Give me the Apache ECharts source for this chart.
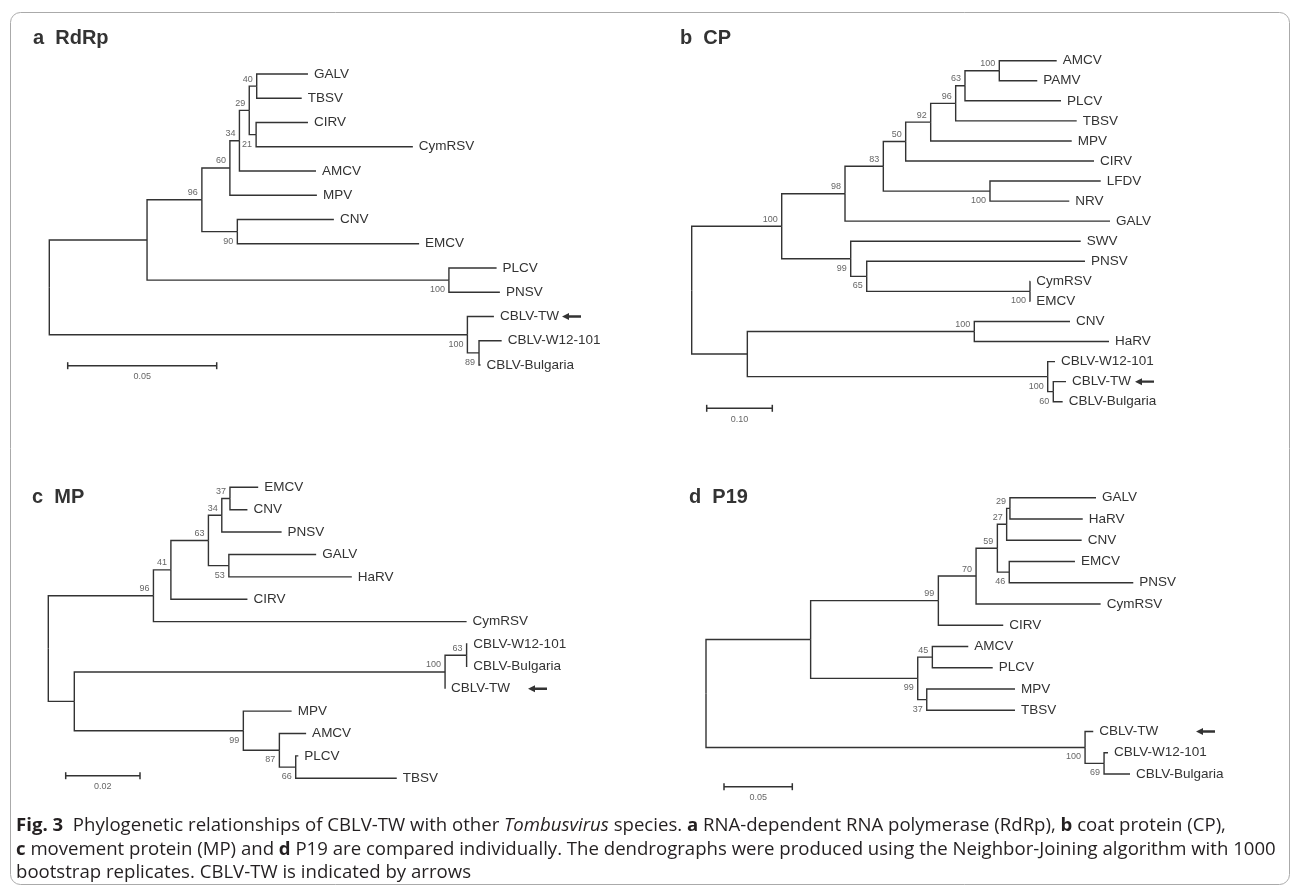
<!DOCTYPE html>
<html><head><meta charset="utf-8">
<script src="https://cdn.jsdelivr.net/npm/echarts@6/dist/echarts.min.js"></script>
<style>html,body{margin:0;padding:0;background:#fff}#c{width:1293px;height:887px}</style>
</head><body><div id="c"></div>
<script>
// ---------- Panel a: RdRp (pre-order nodes; dist = distance from root) ----------
const aName = ['', '', '', '', '', '', '', 'GALV', 'TBSV', '', 'CIRV', 'CymRSV', 'AMCV', 'MPV', '', 'CNV', 'EMCV', '', 'PLCV', 'PNSV', '', 'CBLV-TW', '', 'CBLV-W12-101', 'CBLV-Bulgaria'];
const aParent = [-1, 0, 1, 2, 3, 4, 5, 6, 6, 5, 9, 9, 4, 3, 2, 14, 14, 1, 17, 17, 0, 20, 20, 22, 22];
const aDist = [0, 0.0328, 0.0512, 0.0606, 0.0638, 0.0671, 0.0696, 0.0868, 0.0847, 0.0694, 0.0868, 0.1220, 0.0895, 0.0898, 0.0631, 0.0955, 0.1241, 0.1341, 0.1501, 0.1512, 0.1403, 0.1492, 0.1442, 0.1518, 0.1447];
const aBoot = [null, null, 96, 60, 34, 29, 40, null, null, 21, null, null, null, null, 90, null, null, 100, null, null, 100, null, 89, null, null];
const aScaleBar = 0.05;

// ---------- Panel b: CP ----------
const bName = ['', '', '', '', '', '', '', '', '', 'AMCV', 'PAMV', 'PLCV', 'TBSV', 'MPV', 'CIRV', '', 'LFDV', 'NRV', 'GALV', '', 'SWV', '', 'PNSV', '', 'CymRSV', 'EMCV', '', '', 'CNV', 'HaRV', '', 'CBLV-W12-101', '', 'CBLV-TW', 'CBLV-Bulgaria'];
const bParent = [-1, 0, 1, 2, 3, 4, 5, 6, 7, 8, 8, 7, 6, 5, 4, 3, 15, 15, 2, 1, 19, 19, 21, 21, 23, 23, 0, 26, 27, 27, 26, 30, 30, 32, 32];
const bDist = [0, 0.1372, 0.2337, 0.2921, 0.3262, 0.3643, 0.4024, 0.4166, 0.4689, 0.5564, 0.5268, 0.5630, 0.5869, 0.5793, 0.6133, 0.4547, 0.6235, 0.5756, 0.6377, 0.2424, 0.5930, 0.2668, 0.5995, 0.5157, 0.5160, 0.5160, 0.0848, 0.4308, 0.5767, 0.6361, 0.5427, 0.5538, 0.5512, 0.5706, 0.5655];
const bBoot = [null, 100, 98, 83, 50, 92, 96, 63, 100, null, null, null, null, null, null, 100, null, null, null, 99, null, 65, null, 100, null, null, null, 100, null, null, 100, null, 60, null, null];
const bScaleBar = 0.10;

// ---------- Panel c: MP ----------
const cName = ['', '', '', '', '', '', 'EMCV', 'CNV', 'PNSV', '', 'GALV', 'HaRV', 'CIRV', 'CymRSV', '', '', '', 'CBLV-W12-101', 'CBLV-Bulgaria', 'CBLV-TW', '', 'MPV', '', 'AMCV', '', 'PLCV', 'TBSV'];
const cParent = [-1, 0, 1, 2, 3, 4, 5, 5, 4, 3, 9, 9, 2, 1, 0, 14, 15, 16, 16, 15, 14, 20, 20, 22, 22, 24, 24];
const cDist = [0, 0.0283, 0.0330, 0.0431, 0.0467, 0.0489, 0.0565, 0.0536, 0.0628, 0.0486, 0.0721, 0.0817, 0.0536, 0.1126, 0.0070, 0.1068, 0.1126, 0.1128, 0.1128, 0.1068, 0.0525, 0.0655, 0.0622, 0.0694, 0.0666, 0.0673, 0.0938];
const cBoot = [null, 96, 41, 63, 34, 37, null, null, null, 53, null, null, null, null, null, 100, 63, null, null, null, 99, null, 87, null, 66, null, null];
const cScaleBar = 0.02;

// ---------- Panel d: P19 ----------
const dName = ['', '', '', '', '', '', '', 'GALV', 'HaRV', 'CNV', '', 'EMCV', 'PNSV', 'CymRSV', 'CIRV', '', '', 'AMCV', 'PLCV', '', 'MPV', 'TBSV', '', 'CBLV-TW', '', 'CBLV-W12-101', 'CBLV-Bulgaria'];
const dParent = [-1, 0, 1, 2, 3, 4, 5, 6, 6, 5, 4, 10, 10, 3, 2, 1, 15, 16, 16, 15, 19, 19, 0, 22, 22, 24, 24];
const dDist = [0, 0.0766, 0.1701, 0.1977, 0.2133, 0.2201, 0.2225, 0.2855, 0.2758, 0.2750, 0.2220, 0.2701, 0.3128, 0.2889, 0.2176, 0.1550, 0.1657, 0.1920, 0.2099, 0.1616, 0.2262, 0.2262, 0.2775, 0.2835, 0.2914, 0.2943, 0.3104];
const dBoot = [null, null, 99, 70, 59, 27, 29, null, null, null, 46, null, null, null, null, 99, 45, null, null, 37, null, null, 100, null, 69, null, null];
const dScaleBar = 0.05;

const panelTitles = ['a  RdRp', 'b  CP', 'c  MP', 'd  P19'];
const markedTaxon = 'CBLV-TW';

// ---------- layout / style ----------
const LINE = '#333';
const LW = 1.4;
const TEXT = '#333';
const LEAF_FONT = '13.5px "Liberation Sans", Arial, sans-serif';
const BOOT_FONT = '9px "Liberation Sans", Arial, sans-serif';
const layouts = [
  {left: 49.3, top: 74, height: 291, k: 2980, span: 0.2, barX: 67.7, barY: 365.7, arrowX: 562, tx: 33, ty: 38},
  {left: 691.7, top: 60.7, height: 341, k: 656, span: 0.8, barX: 706.7, barY: 408.3, arrowX: 1135, tx: 680, ty: 38},
  {left: 48.3, top: 487.3, height: 291, k: 3715, span: 0.15, barX: 65.7, barY: 775.7, arrowX: 528, tx: 32, ty: 497},
  {left: 706, top: 497.7, height: 276.3, k: 1366, span: 0.35, barX: 724, barY: 786.7, arrowX: 1196, tx: 689, ty: 497}
];
const panels = [
  {name: aName, parent: aParent, dist: aDist, boot: aBoot, bar: aScaleBar},
  {name: bName, parent: bParent, dist: bDist, boot: bBoot, bar: bScaleBar},
  {name: cName, parent: cParent, dist: cDist, boot: cBoot, bar: cScaleBar},
  {name: dName, parent: dParent, dist: dDist, boot: dBoot, bar: dScaleBar}
];

function buildTree(parent) {
  const n = parent.length;
  const children = Array.from({length: n}, () => []);
  parent.forEach((p, i) => { if (p >= 0) children[p].push(i); });
  const y = new Array(n);
  let leaf = 0;
  for (let i = 0; i < n; i++) if (!children[i].length) y[i] = leaf++;
  for (let i = n - 1; i >= 0; i--) {
    const c = children[i];
    if (c.length) y[i] = (y[c[0]] + y[c[c.length - 1]]) / 2;
  }
  const isUpper = parent.map((p, i) => p >= 0 && children[p][0] === i);
  return {y, nLeaves: leaf, isUpper};
}

const grids = [], xAxes = [], yAxes = [], series = [];
panels.forEach((P, gi) => {
  const L = layouts[gi];
  const t = buildTree(P.parent);
  grids.push({left: L.left, top: L.top, width: L.span * L.k, height: L.height, outerBoundsMode: 'none', containLabel: false});
  xAxes.push({type: 'value', gridIndex: gi, min: 0, max: L.span, show: false});
  yAxes.push({type: 'value', gridIndex: gi, min: 0, max: t.nLeaves - 1, inverse: true, show: false});
  const data = P.parent.map((p, i) => [P.dist[i], t.y[i], p >= 0 ? P.dist[p] : P.dist[i], p >= 0 ? t.y[p] : t.y[i], i]);
  series.push({
    type: 'custom', xAxisIndex: gi, yAxisIndex: gi, clip: false, silent: true, animation: false,
    encode: {x: 0, y: 1}, data,
    renderItem(params, api) {
      const i = api.value(4);
      const pt = api.coord([api.value(0), api.value(1)]);
      const els = [];
      if (P.parent[i] >= 0) {
        const q = api.coord([api.value(2), api.value(3)]);
        els.push({type: 'polyline', shape: {points: [[q[0], q[1]], [q[0], pt[1]], [pt[0], pt[1]]]},
          style: {stroke: LINE, lineWidth: LW, fill: null}});
      }
      if (P.name[i]) {
        els.push({type: 'text', style: {text: P.name[i], x: pt[0] + 6, y: pt[1], align: 'left', verticalAlign: 'middle', font: LEAF_FONT, fill: TEXT}});
        if (P.name[i] === markedTaxon) {
          const ax = L.arrowX, y = pt[1];
          els.push({type: 'polygon', shape: {points: [[ax, y], [ax + 7, y - 3.5], [ax + 7, y - 1.2], [ax + 19, y - 1.2], [ax + 19, y + 1.2], [ax + 7, y + 1.2], [ax + 7, y + 3.5]]},
            style: {fill: '#333'}});
        }
      }
      if (P.boot[i] != null) {
        const up = t.isUpper[i];
        els.push({type: 'text', style: {text: String(P.boot[i]), x: pt[0] - 4, y: up ? pt[1] - 2.5 : pt[1] + 5,
          align: 'right', verticalAlign: up ? 'bottom' : 'top', font: BOOT_FONT, fill: '#666'}});
      }
      return {type: 'group', children: els};
    }
  });
  // scale bar
  series.push({
    type: 'custom', xAxisIndex: gi, yAxisIndex: gi, clip: false, silent: true, animation: false,
    encode: {x: 0}, data: [[P.bar]],
    renderItem(params, api) {
      const len = api.coord([api.value(0), 0])[0] - api.coord([0, 0])[0];
      const x0 = L.barX, x1 = L.barX + len, y = L.barY;
      return {type: 'group', children: [
        {type: 'line', shape: {x1: x0, y1: y, x2: x1, y2: y}, style: {stroke: LINE, lineWidth: 1.5}},
        {type: 'line', shape: {x1: x0, y1: y - 3.5, x2: x0, y2: y + 3.5}, style: {stroke: LINE, lineWidth: 1.5}},
        {type: 'line', shape: {x1: x1, y1: y - 3.5, x2: x1, y2: y + 3.5}, style: {stroke: LINE, lineWidth: 1.5}},
        {type: 'text', style: {text: api.value(0).toFixed(2), x: (x0 + x1) / 2, y: y + 11, align: 'center', verticalAlign: 'middle', font: BOOT_FONT, fill: '#666'}}
      ]};
    }
  });
});

const graphic = [
  {type: 'rect', shape: {x: 10.5, y: 12.5, width: 1279, height: 872, r: 10}, style: {fill: null, stroke: '#aaa', lineWidth: 1}, silent: true}
];
panelTitles.forEach((tt, gi) => {
  const L = layouts[gi];
  graphic.push({type: 'text', x: L.tx, y: L.ty, style: {text: tt, verticalAlign: 'middle', font: 'bold 20px "Liberation Sans", Arial, sans-serif', fill: '#333'}});
});
const CAP_SIZE = 18.6;
const capRich = {
  b: {fontWeight: 'bold', fontFamily: 'Open Sans', fontSize: CAP_SIZE, fill: '#231f20'},
  i: {fontStyle: 'italic', fontFamily: 'Open Sans', fontSize: CAP_SIZE, fill: '#231f20'}
};
const captionLines = [
  '{b|Fig. 3}  Phylogenetic relationships of CBLV-TW with other {i|Tombusvirus} species. {b|a} RNA-dependent RNA polymerase (RdRp), {b|b} coat protein (CP),',
  '{b|c} movement protein (MP) and {b|d} P19 are compared individually. The dendrographs were produced using the Neighbor-Joining algorithm with 1000',
  'bootstrap replicates. CBLV-TW is indicated by arrows'
];
captionLines.forEach((ln, k) => {
  graphic.push({type: 'text', x: 16, y: 826 + k * 23.5, style: {text: ln, verticalAlign: 'middle', font: CAP_SIZE + 'px "Open Sans", sans-serif', fill: '#231f20', rich: capRich}});
});

const chart = echarts.init(document.getElementById('c'));
chart.setOption({animation: false, grid: grids, xAxis: xAxes, yAxis: yAxes, series, graphic});
</script></body></html>
